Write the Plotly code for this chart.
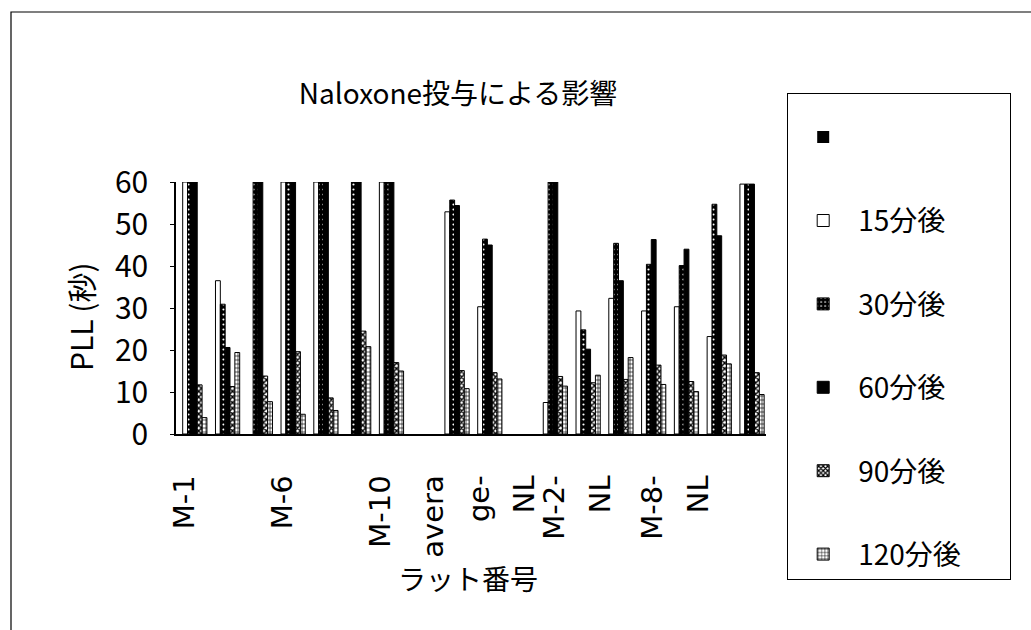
import plotly.graph_objects as go

# ---------------- data ----------------
n_rats = 18
label_cats = [0, 3, 6, 9, 12, 15]
label_lines = [["M-1"], ["M-6"], ["M-10"], ["avera", "ge-", "NL"], ["M-2-", "NL"], ["M-8-", "NL"]]

series_names = [" ", "15分後", "30分後", "60分後", "90分後", "120分後"]
s_blank = [0] * n_rats
s15 = [60, 36.5, None, 60, 60, None, 60, None, 52.9, 30.3, None, 7.5, 29.3, 32.3, 29.3, 30.3, 23.2, 59.5]
s30 = [60, 30.9, 60, 60, 60, 60, 60, None, 55.7, 46.4, None, 60, 24.8, 45.4, 40.4, 40.1, 54.7, 59.5]
s60 = [60, 20.6, 60, 60, 60, 60, 60, None, 54.4, 45.0, None, 60, 20.2, 36.5, 46.3, 44.0, 47.2, 59.5]
s90 = [11.7, 11.3, 13.8, 19.6, 8.6, 24.5, 17.0, None, 15.1, 14.6, None, 13.7, 12.2, 13.0, 16.4, 12.5, 18.8, 14.6]
s120 = [3.9, 19.4, 7.7, 4.7, 5.6, 20.8, 15.0, None, 10.8, 13.1, None, 11.4, 14.0, 18.2, 11.8, 10.1, 16.7, 9.4]
y_ticks = [0, 10, 20, 30, 40, 50, 60]

title_text = "Naloxone投与による影響"
y_title = "PLL (秒)"
x_title = "ラット番号"

# ---------------- layout geometry ----------------
W, H = 1031, 630
L, R, T, B = 176, 766, 182, 434   # plot area in px
def px_x(p):
    return (p - L) / (R - L)
def px_y(p):
    return (B - p) / (B - T)

FONT = "Noto Sans CJK JP, Noto Sans, sans-serif"
x = list(range(n_rats))
PAD = "\u00a0" * 7  # widens the legend box like the original

styles = [
    dict(color="black", line=dict(color="black", width=0)),
    dict(color="white", line=dict(color="black", width=1)),
    dict(color="black", line=dict(color="black", width=1),
         pattern=dict(shape=".", fgcolor="white", bgcolor="black", size=5, solidity=0.15, fillmode="replace")),
    dict(color="black", line=dict(color="black", width=1)),
    dict(color="white", line=dict(color="black", width=1),
         pattern=dict(shape="x", fgcolor="black", bgcolor="white", size=4, solidity=0.6, fillmode="replace")),
    dict(color="white", line=dict(color="black", width=1),
         pattern=dict(shape="+", fgcolor="black", bgcolor="white", size=4, solidity=0.3, fillmode="replace")),
]
values = [s_blank, s15, s30, s60, s90, s120]

fig = go.Figure()
for i, (name, vals, st) in enumerate(zip(series_names, values, styles)):
    fig.add_trace(go.Bar(x=x, y=vals, name=name + PAD, marker=st, legendgroup=str(i),
                         hoverinfo="skip"))

# tick labels: multi-line labels spread horizontally like the original
tickvals, ticktext = [], []
line_step = 1.4
for c, lines in zip(label_cats, label_lines):
    n = len(lines)
    for j, t in enumerate(lines):
        tickvals.append(c - 0.25 + (j - (n - 1) / 2) * line_step)
        ticktext.append(t)

fig.update_layout(
    width=W, height=H,
    margin=dict(l=L, r=W - R, t=T, b=H - B, autoexpand=False),
    paper_bgcolor="white", plot_bgcolor="white",
    barmode="group", bargap=0.113, bargroupgap=0,
    font=dict(family=FONT, color="black"),
    title=dict(text=title_text, x=px_x(458), xref="paper", xanchor="center",
               y=1 - 94 / H, yref="container", yanchor="middle",
               font=dict(size=28, family=FONT, color="black")),
    xaxis=dict(range=[-0.5, n_rats - 0.5], showline=True, linecolor="black", linewidth=1.5,
               showgrid=False, zeroline=False, ticks="",
               tickmode="array", tickvals=tickvals, ticktext=ticktext,
               tickangle=-90, ticklabelstandoff=28,
               tickfont=dict(size=29, family="DejaVu Sans, sans-serif", color="black")),
    yaxis=dict(range=[0, 60], showline=True, linecolor="black", linewidth=1.5,
               showgrid=False, zeroline=False, ticks="outside", ticklen=4, tickcolor="black",
               tickmode="array", tickvals=y_ticks, ticklabelstandoff=16,
               tickfont=dict(size=30, family=FONT, color="black")),
    legend=dict(x=px_x(787), y=px_y(93), xanchor="left", yanchor="top",
                xref="paper", yref="paper",
                bordercolor="black", borderwidth=1.2, bgcolor="white",
                font=dict(size=28, family=FONT, color="black"),
                title=dict(text=" ", font=dict(size=14)),
                traceorder="grouped", tracegroupgap=44, itemwidth=60,
                maxheight=620),
    showlegend=True,
)

fig.add_annotation(text=y_title, x=px_x(80), y=px_y(317), xref="paper", yref="paper",
                   textangle=-90, showarrow=False, xanchor="center", yanchor="middle",
                   font=dict(size=30, family=FONT, color="black"))
fig.add_annotation(text=x_title, x=px_x(468), y=px_y(578), xref="paper", yref="paper",
                   showarrow=False, xanchor="center", yanchor="middle",
                   font=dict(size=28, family=FONT, color="black"))

# outer chart frame (top and left edges visible in the scan)
fig.add_shape(type="rect", xref="paper", yref="paper",
              x0=px_x(11), y0=px_y(12), x1=px_x(1045), y1=px_y(650),
              line=dict(color="black", width=1.2), fillcolor="rgba(0,0,0,0)", layer="below")

fig.write_html("out.html")
